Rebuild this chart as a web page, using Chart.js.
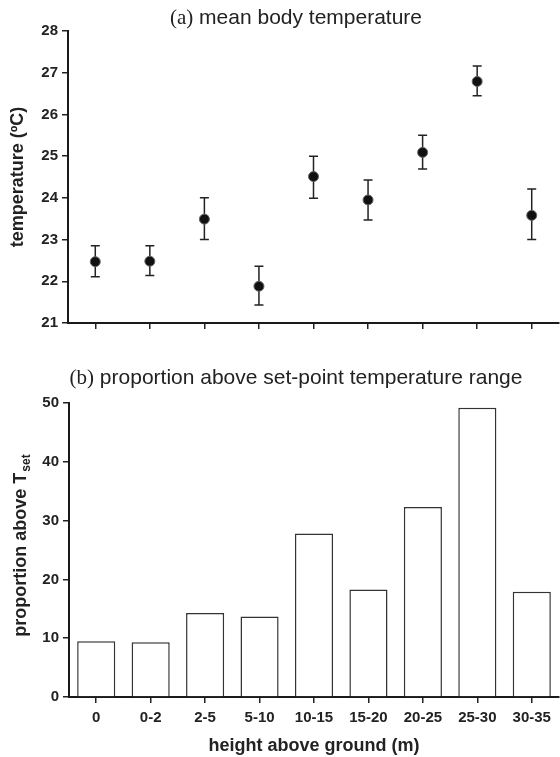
<!DOCTYPE html>
<html>
<head>
<meta charset="utf-8">
<script src="https://cdn.jsdelivr.net/npm/chart.js@4/dist/chart.umd.min.js"></script>
<style>
  body { margin: 0; background: #fff; }
  #wrap { position: relative; width: 560px; height: 757px; }
  canvas { position: absolute; left: 0; }
  .ttl { position: absolute; left: 0; width: 592px; text-align: center;
         font: 21px "Liberation Sans", Arial, sans-serif; color: #222; line-height: 24px; }
  .ttl span { font-family: "Liberation Serif", "Times New Roman", serif; }
</style>
</head>
<body>
<div id="wrap">
  <canvas id="tempChart" width="560" height="340" style="top:0"></canvas>
  <canvas id="propChart" width="560" height="417" style="top:340px"></canvas>
  <div class="ttl" style="top:5px"><span>(a)</span> mean body temperature</div>
  <div class="ttl" style="top:365px"><span>(b)</span> proportion above set-point temperature range</div>
</div>
<script>
// height classes (m)
const heights = ['0', '0-2', '2-5', '5-10', '10-15', '15-20', '20-25', '25-30', '30-35'];

// (a) mean body temperature, with error bar ends
const meanTemp = [22.47, 22.48, 23.49, 21.88, 24.51, 23.95, 25.09, 26.79, 23.58];
const tempUpper = [22.85, 22.85, 24.0, 22.36, 25.0, 24.43, 25.5, 27.16, 24.21];
const tempLower = [22.11, 22.14, 23.0, 21.43, 23.99, 23.47, 24.69, 26.45, 23.0];

// (b) proportion above Tset
const propAbove = [9.5, 9.3, 14.3, 13.7, 27.8, 18.3, 32.3, 49.2, 17.9];

const tickFont = { family: 'Liberation Sans', size: 15, weight: 'bold' };
const axisFont = { family: 'Liberation Sans', size: 18, weight: 'bold' };
const ink = '#222';

function axisBase() {
  return {
    grid: { display: true, drawOnChartArea: false, drawTicks: true, tickLength: 6, color: ink, lineWidth: 1.5, offset: false },
    border: { display: true, color: '#1a1a1a', width: 2 },
    ticks: { color: ink, font: tickFont }
  };
}

// error bars, drawn under the points
const errorBars = {
  id: 'errorBars',
  beforeDatasetsDraw(chart) {
    const { ctx, scales: { x, y } } = chart;
    ctx.save();
    ctx.strokeStyle = ink;
    ctx.lineWidth = 1.5;
    meanTemp.forEach((m, i) => {
      const px = x.getPixelForValue(i);
      const top = y.getPixelForValue(tempUpper[i]);
      const bot = y.getPixelForValue(tempLower[i]);
      ctx.beginPath();
      ctx.moveTo(px, top); ctx.lineTo(px, bot);
      ctx.moveTo(px - 4.5, top); ctx.lineTo(px + 4.5, top);
      ctx.moveTo(px - 4.5, bot); ctx.lineTo(px + 4.5, bot);
      ctx.stroke();
    });
    ctx.restore();
  }
};

const xTop = axisBase();
xTop.offset = true;
xTop.ticks = { display: false };
xTop.afterFit = s => { s.height = 17; s.paddingLeft = 0; s.paddingRight = 0; };

const yTop = axisBase();
yTop.min = 21; yTop.max = 28;
yTop.ticks.stepSize = 1;
yTop.ticks.padding = 4;
yTop.afterFit = s => { s.width = 68; };
yTop.title = { display: true, text: 'temperature (ºC)', color: ink, font: axisFont, padding: { top: 7, bottom: 0 } };

new Chart(document.getElementById('tempChart'), {
  type: 'line',
  data: {
    labels: heights,
    datasets: [{
      data: meanTemp,
      showLine: false,
      pointRadius: 5,
      pointBackgroundColor: '#111',
      pointBorderColor: '#666',
      pointBorderWidth: 1
    }]
  },
  options: {
    responsive: false,
    animation: false,
    layout: { autoPadding: false, padding: { top: 31, right: 1, left: 0, bottom: 0 } },
    plugins: { legend: { display: false }, tooltip: { enabled: false } },
    scales: { x: xTop, y: yTop }
  },
  plugins: [errorBars]
});

// y title with subscript "set"
const subTitle = {
  id: 'subTitle',
  afterDraw(chart) {
    const { ctx, chartArea } = chart;
    const main = 'proportion above T';
    ctx.save();
    ctx.fillStyle = ink;
    ctx.font = 'bold 18px "Liberation Sans"';
    const w1 = ctx.measureText(main).width;
    ctx.font = 'bold 12px "Liberation Sans"';
    const w2 = ctx.measureText('set').width;
    const cy = (chartArea.top + chartArea.bottom) / 2 - 4;
    ctx.translate(26, cy);
    ctx.rotate(-Math.PI / 2);
    const start = -(w1 + w2) / 2;
    ctx.textBaseline = 'alphabetic';
    ctx.font = 'bold 18px "Liberation Sans"';
    ctx.fillText(main, start, 0);
    ctx.font = 'bold 12px "Liberation Sans"';
    ctx.fillText('set', start + w1 + 1, 4);
    ctx.restore();
  }
};

const xBot = axisBase();
xBot.offset = true;
xBot.ticks.padding = 6;
xBot.afterFit = s => { s.height = 60; s.paddingLeft = 0; s.paddingRight = 0; };
xBot.title = { display: true, text: 'height above ground (m)', color: ink, font: axisFont, padding: { top: 0, bottom: 0 } };

const yBot = axisBase();
yBot.min = 0; yBot.max = 50;
yBot.ticks.stepSize = 10;
yBot.ticks.padding = 4;
yBot.afterFit = s => { s.width = 69; };

new Chart(document.getElementById('propChart'), {
  type: 'bar',
  data: {
    labels: heights,
    datasets: [{
      data: propAbove,
      backgroundColor: '#fff',
      borderColor: '#333',
      borderWidth: 1.5,
      categoryPercentage: 1,
      barPercentage: 0.7
    }]
  },
  options: {
    responsive: false,
    animation: false,
    layout: { padding: { top: 63, right: 1, left: 0, bottom: 0 } },
    plugins: { legend: { display: false }, tooltip: { enabled: false } },
    scales: { x: xBot, y: yBot }
  },
  plugins: [subTitle]
});
</script>
</body>
</html>
